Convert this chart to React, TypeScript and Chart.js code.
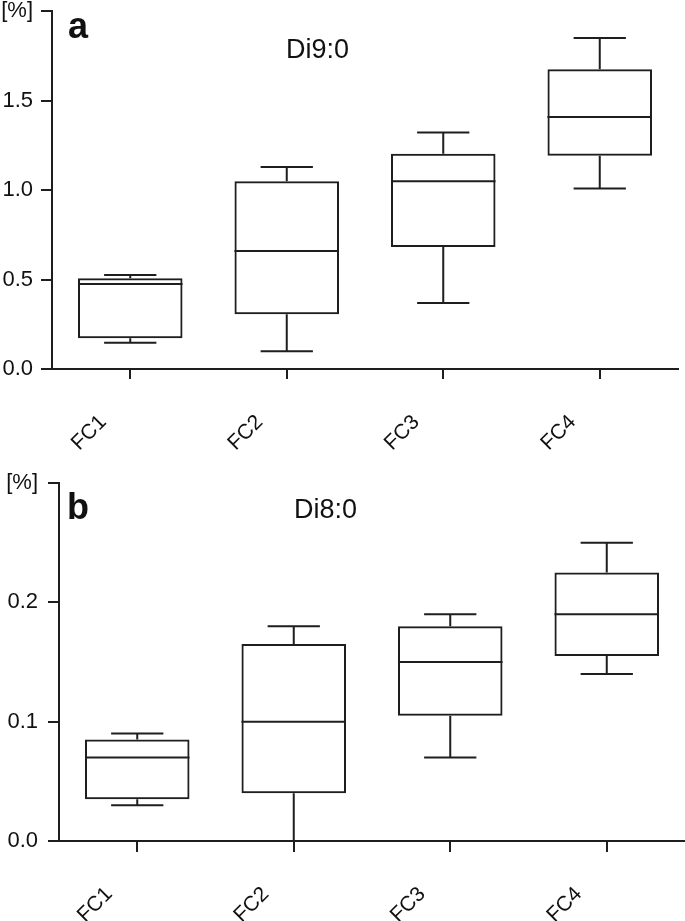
import React, { useEffect, useRef } from 'react';
import { Chart, registerables } from 'chart.js';

Chart.register(...registerables);

const FONT = 'Liberation Sans, Arial, Helvetica, sans-serif';
const INK = '#1e1e1e';

const categories = ['FC1', 'FC2', 'FC3', 'FC4'];

// Panel a: Di9:0 [%]
const di9Min = [0.147, 0.099, 0.369, 1.008];
const di9Q1 = [0.172, 0.306, 0.682, 1.192];
const di9Median = [0.475, 0.659, 1.049, 1.408];
const di9Q3 = [0.507, 1.049, 1.203, 1.674];
const di9Max = [0.525, 1.128, 1.321, 1.849];
const di9Ticks = { min: 0, max: 2, step: 0.5 };

// Panel b: Di8:0 [%]
const di8Min = [0.03, 0.0, 0.07, 0.14];
const di8Q1 = [0.035, 0.04, 0.105, 0.155];
const di8Median = [0.07, 0.1, 0.15, 0.19];
const di8Q3 = [0.085, 0.165, 0.18, 0.225];
const di8Max = [0.09, 0.18, 0.19, 0.25];
const di8Ticks = { min: 0, max: 0.3, step: 0.1 };

const whiskerPlugin = {
  id: 'whiskers',
  afterDatasetsDraw(chart: any, _args: any, opts: any) {
    const { ctx, scales } = chart;
    const x = scales.x;
    const y = scales.y;
    const meta = chart.getDatasetMeta(0);
    ctx.save();
    ctx.strokeStyle = INK;
    ctx.lineWidth = 2;
    ctx.lineCap = 'butt';
    meta.data.forEach((bar: any, i: number) => {
      const cx = x.getPixelForValue(i);
      const w = bar.width;
      const yMin = y.getPixelForValue(opts.min[i]);
      const yQ1 = y.getPixelForValue(opts.q1[i]);
      const yMed = y.getPixelForValue(opts.median[i]);
      const yQ3 = y.getPixelForValue(opts.q3[i]);
      const yMax = y.getPixelForValue(opts.max[i]);
      ctx.beginPath();
      // median
      ctx.moveTo(cx - w / 2, yMed);
      ctx.lineTo(cx + w / 2, yMed);
      // upper whisker
      ctx.moveTo(cx, yQ3);
      ctx.lineTo(cx, yMax);
      ctx.moveTo(cx - w / 4, yMax);
      ctx.lineTo(cx + w / 4, yMax);
      // lower whisker
      ctx.moveTo(cx, yQ1);
      ctx.lineTo(cx, yMin);
      ctx.moveTo(cx - w / 4, yMin);
      ctx.lineTo(cx + w / 4, yMin);
      ctx.stroke();
    });
    ctx.restore();
  },
};

const panelTextPlugin = {
  id: 'panelText',
  afterDraw(chart: any, _args: any, opts: any) {
    const { ctx } = chart;
    ctx.save();
    ctx.fillStyle = '#111';
    ctx.textAlign = 'left';
    ctx.textBaseline = 'alphabetic';
    ctx.font = `bold 36px ${FONT}`;
    ctx.fillText(opts.letter, opts.letterX, opts.letterY);
    ctx.font = `27px ${FONT}`;
    ctx.fillText(opts.title, opts.titleX, opts.titleY);
    ctx.restore();
  },
};

function makeConfig(p: any) {
  return {
    type: 'bar',
    data: {
      labels: categories,
      datasets: [
        {
          data: categories.map((_, i) => [p.q1[i], p.q3[i]]),
          backgroundColor: 'rgba(255,255,255,0)',
          borderColor: INK,
          borderWidth: 2,
          borderSkipped: false,
          barPercentage: 0.668,
          categoryPercentage: 1,
        },
      ],
    },
    options: {
      animation: false,
      responsive: false,
      devicePixelRatio: 1,
      layout: { padding: { left: 0, top: p.padTop, right: p.padRight, bottom: 0 } },
      plugins: {
        legend: { display: false },
        tooltip: { enabled: false },
        whiskers: { min: p.min, q1: p.q1, median: p.median, q3: p.q3, max: p.max },
        panelText: p.text,
      },
      scales: {
        x: {
          offset: true,
          ticks: {
            autoSkip: false,
            maxRotation: 45,
            minRotation: 45,
            padding: p.xPad,
            labelOffset: p.xLabelOffset,
            color: '#111',
            font: { family: FONT, size: 21 },
          },
          grid: { offset: false, drawOnChartArea: false, drawTicks: true, tickLength: p.xTick, color: INK, lineWidth: 2 },
          border: { display: true, color: INK, width: 2 },
          afterFit: (s: any) => {
            s.height = p.xHeight;
            s.paddingLeft = 0;
            s.paddingRight = 0;
          },
        },
        y: {
          min: p.ticks.min,
          max: p.ticks.max,
          ticks: {
            stepSize: p.ticks.step,
            padding: p.yPad,
            color: '#111',
            font: { family: FONT, size: 22 },
            callback: (v: any, i: number, ticks: any[]) =>
              i === ticks.length - 1 ? '[%]' : Number(v).toFixed(1),
          },
          grid: { drawOnChartArea: false, drawTicks: true, tickLength: p.yTick, color: INK, lineWidth: 2 },
          border: { display: true, color: INK, width: 2 },
          afterFit: (s: any) => {
            s.width = p.yWidth;
            s.paddingTop = 0;
            s.paddingBottom = 0;
          },
        },
      },
    },
    plugins: [whiskerPlugin, panelTextPlugin],
  };
}

export default function App() {
  const refA = useRef<HTMLCanvasElement | null>(null);
  const refB = useRef<HTMLCanvasElement | null>(null);

  useEffect(() => {
    const a = new Chart(
      refA.current as HTMLCanvasElement,
      makeConfig({
        min: di9Min, q1: di9Q1, median: di9Median, q3: di9Q3, max: di9Max,
        ticks: di9Ticks,
        padTop: 11, padRight: 7, yWidth: 52, xHeight: 91,
        yTick: 11, yPad: 8, xTick: 10, xPad: 31, xLabelOffset: -27,
        text: { letter: 'a', letterX: 68, letterY: 38, title: 'Di9:0', titleX: 286, titleY: 58 },
      }) as any
    );
    const b = new Chart(
      refB.current as HTMLCanvasElement,
      makeConfig({
        min: di8Min, q1: di8Q1, median: di8Median, q3: di8Q3, max: di8Max,
        ticks: di8Ticks,
        padTop: 23, padRight: 0, yWidth: 59, xHeight: 80,
        yTick: 11, yPad: 10, xTick: 11, xPad: 30, xLabelOffset: -28,
        text: { letter: 'b', letterX: 67, letterY: 59, title: 'Di8:0', titleX: 294, titleY: 58 },
      }) as any
    );
    return () => {
      a.destroy();
      b.destroy();
    };
  }, []);

  return (
    <div style={{ position: 'absolute', left: 0, top: 0, width: 685, height: 921, background: '#fff' }}>
      <canvas ref={refA} width={685} height={460} style={{ position: 'absolute', left: 0, top: 0, display: 'block' }} />
      <canvas ref={refB} width={685} height={461} style={{ position: 'absolute', left: 0, top: 460, display: 'block' }} />
    </div>
  );
}
